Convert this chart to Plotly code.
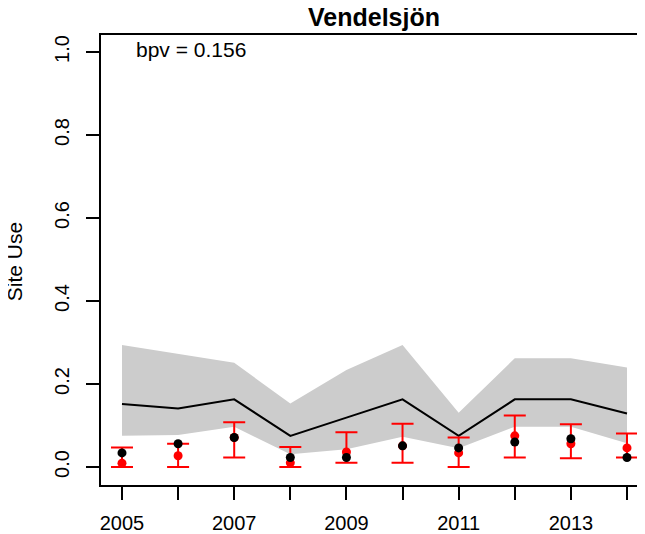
import plotly.graph_objects as go

# years and model output
years = [2005, 2006, 2007, 2008, 2009, 2010, 2011, 2012, 2013, 2014]
band_upper = [0.294, 0.273, 0.251, 0.153, 0.234, 0.294, 0.131, 0.262, 0.262, 0.240]
band_lower = [0.075, 0.077, 0.097, 0.031, 0.043, 0.073, 0.045, 0.097, 0.097, 0.057]
median = [0.152, 0.141, 0.163, 0.075, 0.119, 0.163, 0.075, 0.163, 0.163, 0.129]

# observed (red) with interval, and predicted (black) points
obs_mean = [0.009, 0.027, 0.071, 0.010, 0.036, 0.051, 0.034, 0.075, 0.056, 0.046]
obs_hi = [0.047, 0.056, 0.108, 0.048, 0.084, 0.104, 0.071, 0.124, 0.103, 0.081]
obs_lo = [0.0, 0.0, 0.023, 0.0, 0.010, 0.010, 0.0, 0.023, 0.021, 0.023]
pred = [0.034, 0.056, 0.071, 0.023, 0.023, 0.051, 0.046, 0.060, 0.068, 0.023]

xtick_text = [str(y) if y % 2 == 1 else "" for y in years]
ytick_vals = [0, 0.2, 0.4, 0.6, 0.8, 1.0]
ytick_text = ["0.0", "0.2", "0.4", "0.6", "0.8", "1.0"]

FONT = "Liberation Sans, Arial, sans-serif"

fig = go.Figure()

# grey credible band
fig.add_trace(go.Scatter(x=years, y=band_lower, mode="lines",
                         line=dict(width=0, color="#CCCCCC"), showlegend=False))
fig.add_trace(go.Scatter(x=years, y=band_upper, mode="lines", fill="tonexty",
                         fillcolor="#CCCCCC", line=dict(width=0, color="#CCCCCC"),
                         showlegend=False))
fig.add_trace(go.Scatter(x=years, y=median, mode="lines",
                         line=dict(color="black", width=2), showlegend=False))

# red points with error bars
fig.add_trace(go.Scatter(
    x=years, y=obs_mean, mode="markers",
    marker=dict(color="red", size=9),
    error_y=dict(type="data", symmetric=False,
                 array=[h - m for h, m in zip(obs_hi, obs_mean)],
                 arrayminus=[m - l for m, l in zip(obs_mean, obs_lo)],
                 color="red", thickness=2, width=11),
    showlegend=False))

fig.add_trace(go.Scatter(x=years, y=pred, mode="markers",
                         marker=dict(color="black", size=9), showlegend=False))

fig.update_xaxes(range=[2004.626, 2014.321], tickvals=years, ticktext=xtick_text,
                 ticks="outside", ticklen=13, tickwidth=2, tickcolor="black",
                 showline=True, linewidth=2, linecolor="black", mirror=True,
                 showgrid=False, zeroline=False, ticklabelstandoff=6,
                 automargin=False,
                 tickfont=dict(family=FONT, size=20, color="black"))
fig.update_yaxes(range=[-0.0434, 1.041], tickvals=ytick_vals, ticktext=ytick_text,
                 ticks="outside", ticklen=13, tickwidth=2, tickcolor="black",
                 showline=True, linewidth=2, linecolor="black", mirror=True,
                 showgrid=False, zeroline=False, tickangle=-90, ticklabelstandoff=9,
                 automargin=False,
                 tickfont=dict(family=FONT, size=20, color="black"))

fig.add_annotation(x=-87 / 544, y=0.495, xref="paper", yref="paper",
                   text="Site Use", textangle=-90, showarrow=False,
                   xanchor="center", yanchor="middle",
                   font=dict(family=FONT, size=21, color="black"))
fig.add_annotation(x=2005.21, y=1.007, text="bpv = 0.156", showarrow=False,
                   xanchor="left", yanchor="middle",
                   font=dict(family=FONT, size=21, color="black"))

# the page body adds an 8px offset, so margins are trimmed by 8px
fig.update_layout(
    width=645, height=534,
    margin=dict(l=93, r=8, t=27, b=57),
    paper_bgcolor="white", plot_bgcolor="white",
    title=dict(text="<b>Vendelsjön</b>", x=366 / 645, xanchor="center",
               y=1 - 9 / 534, yanchor="middle",
               font=dict(family=FONT, size=25, color="black")),
)

fig.write_html("out.html")
